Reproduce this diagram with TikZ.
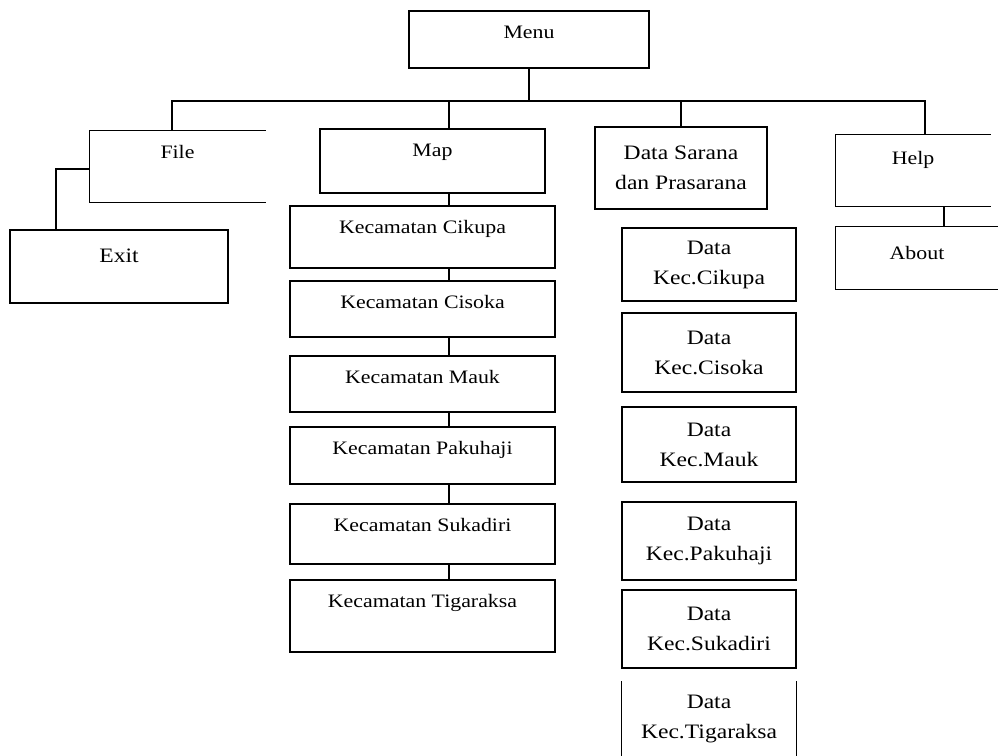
\documentclass[tikz,border=0pt]{standalone}
\usepackage{fontspec}
\setmainfont{Liberation Serif}[FakeStretch=1.15]
\usetikzlibrary{positioning}

\begin{document}
\begin{tikzpicture}[x=1pt, y=-1pt, line width=1.3pt,
  font=\fontsize{19}{29}\selectfont,
  menubox/.style={draw, inner sep=0pt, text height=14pt},
  openbox/.style={inner sep=0pt, text height=14pt},
  kecbox/.style={draw, inner sep=0pt, minimum width=265pt, text height=14pt},
  databox/.style={draw, inner sep=0pt, minimum width=174pt, align=center, font=\fontsize{20.5}{30}\selectfont}]
\useasboundingbox (0,0) rectangle (998,755);

% ノード(座標配置)
\node[menubox, minimum width=240pt, minimum height=57pt, text depth=17pt] (menu) at (529,39.5) {Menu};
\node[openbox, minimum width=175pt, minimum height=71pt, text depth=31pt] (file) at (177.5,166.5) {File};
\node[menubox, minimum width=218pt, minimum height=73pt, text depth=23pt, font=\fontsize{20.5}{29}\selectfont] (exit) at (119,266.5) {Exit};
\node[menubox, minimum width=225pt, minimum height=64pt, text depth=24pt] (map) at (432.5,161) {Map};
\node[databox, minimum width=172pt, minimum height=82pt] (data) at (681,168) {Data Sarana\\dan Prasarana};
\node[openbox, minimum width=154pt, minimum height=71pt, text depth=27pt] (help) at (913,170.5) {Help};
\node[openbox, minimum width=162pt, minimum height=62pt, text depth=12pt] (about) at (917,258) {About};

% Map の下
\node[kecbox, minimum height=62pt, text depth=22pt] (cikupa)    at (422.5,237)   {Kecamatan Cikupa};
\node[kecbox, minimum height=56pt, text depth=16pt] (cisoka)    at (422.5,309)   {Kecamatan Cisoka};
\node[kecbox, minimum height=56pt, text depth=16pt] (mauk)      at (422.5,384)   {Kecamatan Mauk};
\node[kecbox, minimum height=57pt, text depth=17pt] (pakuhaji)  at (422.5,455.5) {Kecamatan Pakuhaji};
\node[kecbox, minimum height=60pt, text depth=20pt] (sukadiri)  at (422.5,534)   {Kecamatan Sukadiri};
\node[kecbox, minimum height=72pt, text depth=32pt] (tigaraksa) at (422.5,616)   {Kecamatan Tigaraksa};

% Data Sarana の下
\node[databox, minimum height=73pt] (dcikupa)   at (709,264.5) {Data\\Kec.Cikupa};
\node[databox, minimum height=79pt] (dcisoka)   at (709,352.5) {Data\\Kec.Cisoka};
\node[databox, minimum height=75pt] (dmauk)     at (709,444.5) {Data\\Kec.Mauk};
\node[databox, minimum height=78pt] (dpakuhaji) at (709,541)   {Data\\Kec.Pakuhaji};
\node[databox, minimum height=78pt] (dsukadiri) at (709,629)   {Data\\Kec.Sukadiri};
\node[databox, draw=none, minimum height=73pt] (dtigaraksa) at (709,718.5) {Data\\Kec.Tigaraksa};

% 開いた枠
\foreach \n in {file,help,about}
  \draw (\n.north east) -- (\n.north west) -- (\n.south west) -- (\n.south east);
\draw (dtigaraksa.north west) -- (dtigaraksa.south west);
\draw (dtigaraksa.north east) -- (dtigaraksa.south east);

% 線
\coordinate (busL) at (172,101);
\coordinate (busR) at (925,101);
\coordinate (mapline) at (449,101);
\coordinate (exitline) at (56,169);
\coordinate (helpline) at (944,206);

\draw (menu.south) -- (menu.south |- busL);
\draw (file.north -| busL) -- (busL) -- (busR) -- (help.north -| busR);
\draw (mapline) -- (map.north -| mapline);
\draw (data.north |- busL) -- (data.north);
\foreach \a/\b in {map/cikupa,cikupa/cisoka,cisoka/mauk,mauk/pakuhaji,pakuhaji/sukadiri,sukadiri/tigaraksa}
  \draw (\a.south -| mapline) -- (\b.north -| mapline);
\draw (file.west |- exitline) -| (exit.north -| exitline);
\draw (help.south -| helpline) -- (about.north -| helpline);
\end{tikzpicture}
\end{document}
